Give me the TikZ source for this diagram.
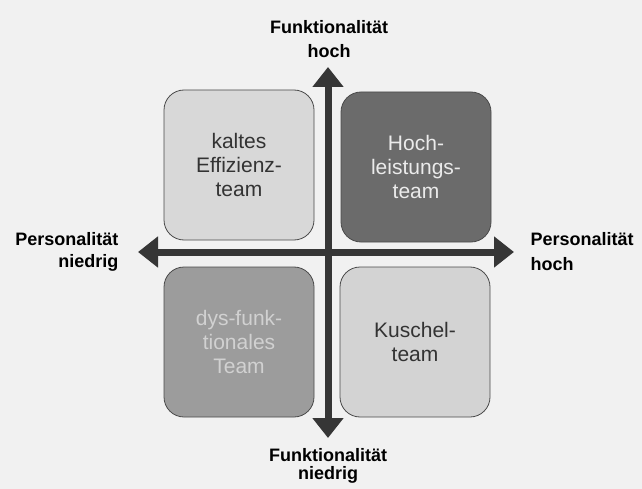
\documentclass[tikz,border=0pt]{standalone}
\usepackage{fontspec}
\setmainfont{Liberation Sans}
\usetikzlibrary{arrows.meta}
\definecolor{pagebg}{HTML}{F1F1F1}
\definecolor{axisgray}{HTML}{363636}
\definecolor{boxline}{HTML}{4A4A4A}
\definecolor{lightbox}{HTML}{D8D8D8}
\definecolor{darkbox}{HTML}{6B6B6B}
\definecolor{midbox}{HTML}{9C9C9C}
\definecolor{softbox}{HTML}{D3D3D3}

\begin{document}
\begin{tikzpicture}[x=1pt, y=-1pt, >={Triangle[width=30pt,length=20pt]},
  team/.style={draw=boxline, line width=0.8pt, rounded corners=20pt,
    minimum width=150pt, minimum height=150pt, align=center,
    font=\fontsize{21}{24}\selectfont},
  axislabel/.style={font=\bfseries\fontsize{18}{22}\selectfont},
  axis/.style={<->, draw=axisgray, fill=axisgray, line width=7pt}]
\fill[pagebg] (0,0) rectangle (642,489);
\useasboundingbox (0,0) rectangle (642,489);

% the four teams
\node[team, fill=lightbox, text=black!80] (kalt) at (239,165) {kaltes\\Effizienz-\\team};
\node[team, fill=darkbox, text=black!8] (hoch) at (416,167) {Hoch-\\leistungs-\\team};
\node[team, fill=midbox, text=black!18] (dys) at (239,342) {dys-funk-\\tionales\\Team};
\node[team, fill=softbox, text=black!80] (kuschel) at (415,342) {Kuschel-\\team};

% axes
\coordinate (fup) at (328,67);
\coordinate (fdown) at (328,438);
\coordinate (pleft) at (138,252);
\coordinate (pright) at (514,252);
\draw[axis] (pleft) -- (pright);
\draw[axis] (fdown) -- (fup);

\node[axislabel, align=center, font=\bfseries\fontsize{18}{24}\selectfont] (fhoch) at (329,39) {Funktionalität\\hoch};
\node[axislabel, align=center, font=\bfseries\fontsize{18}{18}\selectfont] (fniedrig) at (328,466) {Funktionalität\\niedrig};
\node[axislabel, align=right, anchor=east] (pniedrig) at (122,252) {Personalität\\niedrig};
\node[axislabel, align=left, anchor=west, font=\bfseries\fontsize{18}{25}\selectfont] (phoch) at (527,252) {Personalität\\hoch};
\end{tikzpicture}
\end{document}
